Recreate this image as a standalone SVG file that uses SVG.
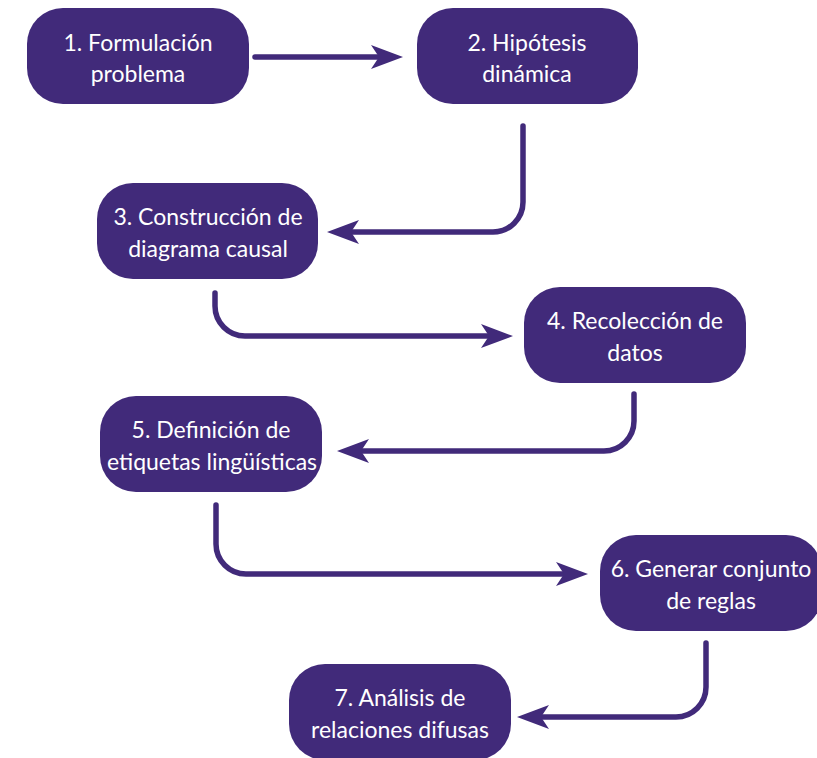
<svg xmlns="http://www.w3.org/2000/svg" width="817" height="758" viewBox="0 0 817 758">
<style>
.box{fill:#412a7a}
.t{fill:#ffffff;font-family:Lato,"Open Sans",sans-serif;font-size:23px;text-anchor:middle}
.c{fill:none;stroke:#412a7a;stroke-width:5.5;stroke-linecap:round;marker-end:url(#ah)}
</style>
<defs>
<marker id="ah" markerUnits="userSpaceOnUse" viewBox="-25 -13 36 26" refX="0" refY="0" markerWidth="36" markerHeight="26" orient="auto" overflow="visible">
<path d="M10,0 L-22,-12 L-14,0 L-22,12 Z" fill="#412a7a"/>
</marker>
</defs>
<g id="connectors">
<path class="c" d="M255,57 L393,57"/>
<path class="c" d="M523,126 V202 A30,30 0 0 1 493,232 L337,232"/>
<path class="c" d="M215,293 V306 A30,30 0 0 0 245,336 L503,336"/>
<path class="c" d="M634,394 V421 A30,30 0 0 1 604,451 L347,451"/>
<path class="c" d="M216,505 V544 A30,30 0 0 0 246,574 L578,574"/>
<path class="c" d="M706,643 V687 A30,30 0 0 1 676,717 L527,717"/>
</g>
<g id="n1"><rect class="box" x="27" y="8" width="222" height="96" rx="36"/><text class="t" x="138" y="51">1. Formulación</text><text class="t" x="138" y="82">problema</text></g>
<g id="n2"><rect class="box" x="417" y="8" width="221" height="96" rx="36"/><text class="t" x="527" y="51">2. Hipótesis</text><text class="t" x="527" y="82">dinámica</text></g>
<g id="n3"><rect class="box" x="97" y="183" width="221" height="96" rx="36"/><text class="t" x="208" y="225">3. Construcción de</text><text class="t" x="208" y="257">diagrama causal</text></g>
<g id="n4"><rect class="box" x="524" y="287" width="222" height="96" rx="36"/><text class="t" x="635" y="329">4. Recolección de</text><text class="t" x="635" y="361">datos</text></g>
<g id="n5"><rect class="box" x="100" y="396" width="222" height="96" rx="36"/><text class="t" x="211" y="438">5. Definición de</text><text class="t" x="212" y="470">etiquetas lingüísticas</text></g>
<g id="n6"><rect class="box" x="600" y="535" width="222" height="96" rx="36"/><text class="t" x="711" y="577">6. Generar conjunto</text><text class="t" x="711" y="609">de reglas</text></g>
<g id="n7"><rect class="box" x="289" y="664" width="222" height="96" rx="36"/><text class="t" x="400" y="706">7. Análisis de</text><text class="t" x="400" y="738">relaciones difusas</text></g>
</svg>
